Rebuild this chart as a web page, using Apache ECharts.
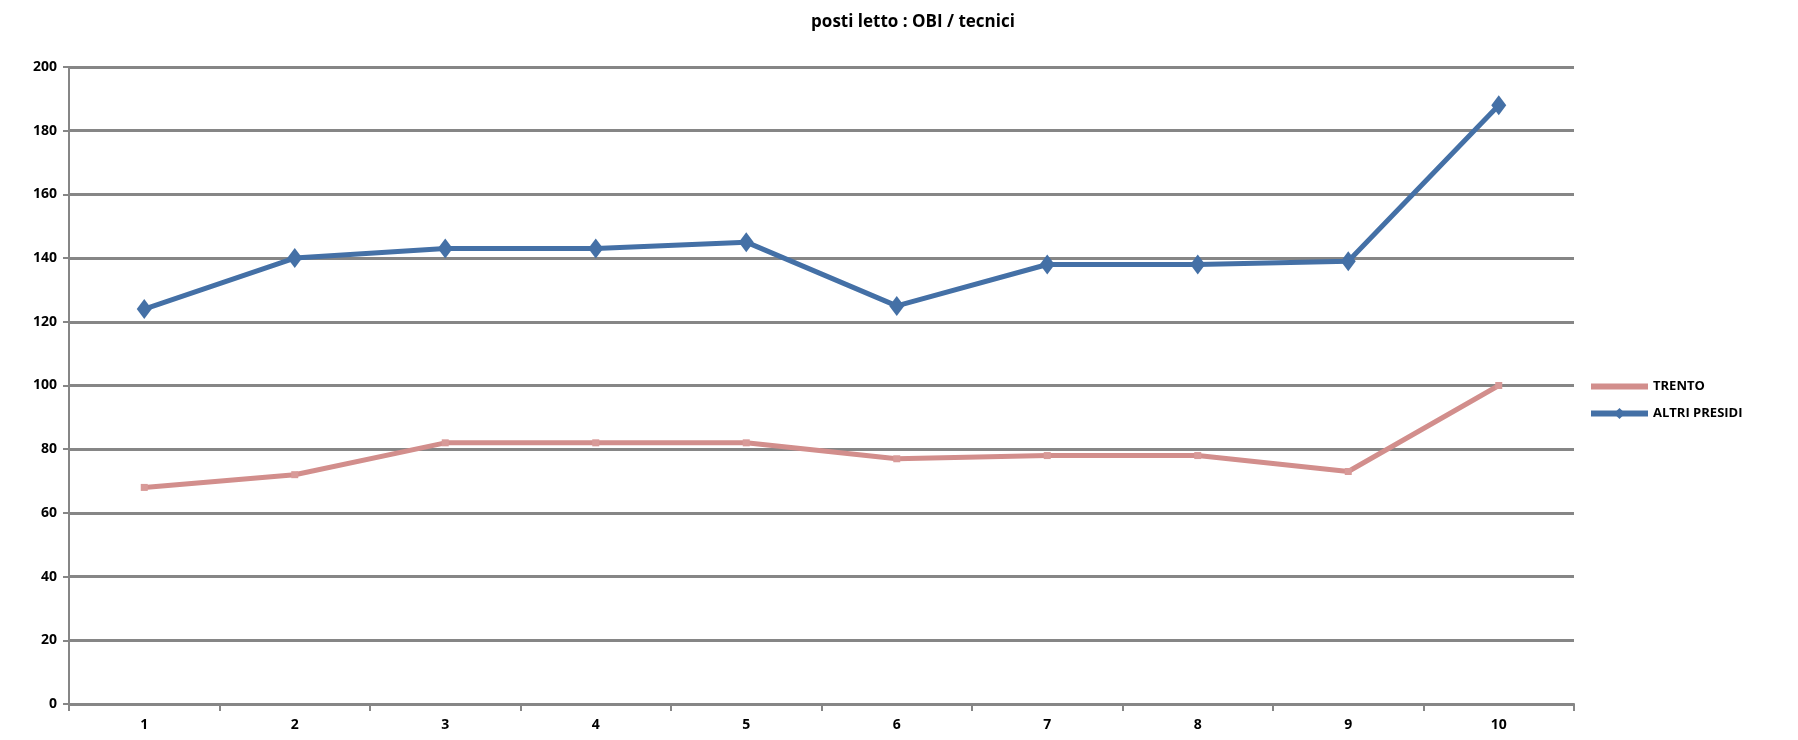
<!DOCTYPE html>
<html><head><meta charset="utf-8">
<script src="https://cdn.jsdelivr.net/npm/echarts@6/dist/echarts.min.js"></script>
<style>html,body{margin:0;padding:0;background:#fff}#c{width:1798px;height:740px}</style>
</head><body><div id="c"></div>
<script>
const categories = ['1','2','3','4','5','6','7','8','9','10'];
const trento = [68, 72, 82, 82, 82, 77, 78, 78, 73, 100];
const altriPresidi = [124, 140, 143, 143, 145, 125, 138, 138, 139, 188];
const yTicks = {min: 0, max: 200, interval: 20};
const titleText = 'posti letto : OBI / tecnici';

const chart = echarts.init(document.getElementById('c'));
const font = '"Open Sans", "DejaVu Sans", sans-serif';
chart.setOption({
  animation: false,
  backgroundColor: '#fff',
  title: {text: titleText, left: 908, top: 9, textAlign: 'center',
    textStyle: {fontFamily: font, fontWeight: 'bold', fontSize: 17, color: '#000'}},
  legend: {orient: 'vertical', left: 1583, top: 375, itemWidth: 57, itemHeight: 14, itemGap: 14,
    lineStyle: {width: 6},
    textStyle: {fontFamily: font, fontWeight: 'bold', fontSize: 13, color: '#000'},
    data: [{name: 'TRENTO', itemStyle: {opacity: 0}}, {name: 'ALTRI PRESIDI'}]},
  grid: {left: 69, right: 224, top: 67, bottom: 36, containLabel: false},
  xAxis: {type: 'category', data: categories, boundaryGap: true,
    axisLine: {lineStyle: {color: '#868686', width: 2}},
    axisTick: {show: true, length: 7, lineStyle: {color: '#868686', width: 2}},
    axisLabel: {fontFamily: font, fontWeight: 'bold', fontSize: 14, color: '#000', margin: 14}},
  yAxis: {type: 'value', min: yTicks.min, max: yTicks.max, interval: yTicks.interval,
    axisLine: {show: true, lineStyle: {color: '#868686', width: 2}},
    axisTick: {show: true, length: 6, lineStyle: {color: '#868686', width: 2}},
    splitLine: {lineStyle: {color: '#868686', width: 3}},
    axisLabel: {fontFamily: font, fontWeight: 'bold', fontSize: 14, color: '#000', margin: 12}},
  series: [
    {name: 'TRENTO', type: 'line', data: trento, symbol: 'rect', symbolSize: 7,
      lineStyle: {color: '#D28E8C', width: 5}, itemStyle: {color: '#D89A98'}},
    {name: 'ALTRI PRESIDI', type: 'line', data: altriPresidi, symbol: 'diamond', symbolSize: [15, 20],
      lineStyle: {color: '#4470A6', width: 5}, itemStyle: {color: '#4470A6'}}
  ]
});
</script></body></html>
